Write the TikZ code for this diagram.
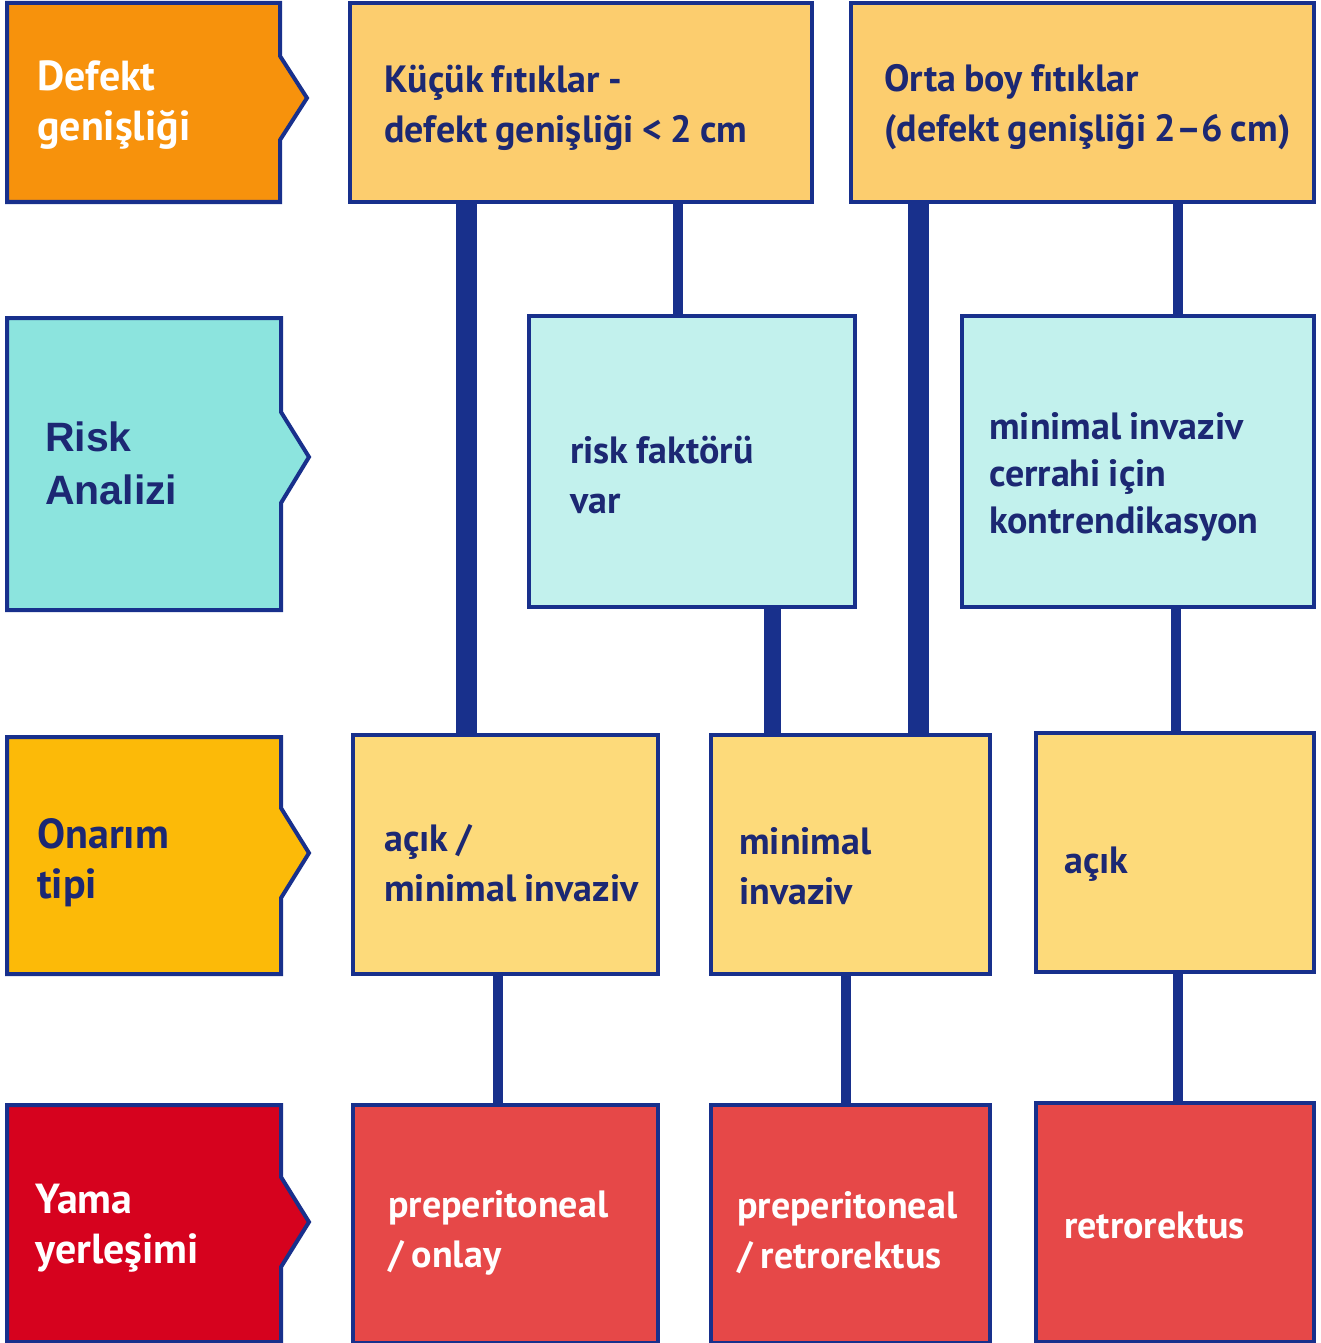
\documentclass[tikz,border=0pt]{standalone}
\usepackage{fontspec}
\setmainfont{PT Sans}[WordSpace=0.85]
\newfontfamily\riskfont{Liberation Sans}
\definecolor{navy}{RGB}{24,48,140}
\definecolor{inknavy}{RGB}{28,40,115}
\definecolor{defektorange}{RGB}{247,146,12}
\definecolor{rowone}{RGB}{252,205,110}
\definecolor{riskteal}{RGB}{140,228,222}
\definecolor{rowtwo}{RGB}{194,241,237}
\definecolor{onarimgold}{RGB}{252,186,8}
\definecolor{rowthree}{RGB}{253,218,122}
\definecolor{yamared}{RGB}{214,2,30}
\definecolor{rowfour}{RGB}{230,72,72}
\begin{document}
\begin{tikzpicture}[
        x=1pt, y=-1pt,
        box/.style={rectangle,draw=navy,line width=4pt,inner sep=0pt},
        boxtext/.style={anchor=west,align=left,inner sep=0pt,
            font=\bfseries\fontsize{38}{50}\selectfont},
        label/.style={draw=navy,line width=4pt,line join=miter},
        labeltext/.style={anchor=west,align=left,inner sep=0pt,
            font=\bfseries\fontsize{42}{50}\selectfont},
        widebar/.style={draw=navy,line width=21pt},
        midbar/.style={draw=navy,line width=17pt},
        thinbar/.style={draw=navy,line width=10pt}
    ]
        \useasboundingbox (0,0) rectangle (1320,1343);

        % Row labels
        \draw[label,fill=defektorange] (7,3) -- (280,3) -- (280,56) -- (307,98) -- (280,140)
            -- (280,202) -- (7,202) -- cycle;
        \node[labeltext,text=white] (defekt) at (37,105.5) {Defekt\\genişliği};
        \draw[label,fill=riskteal] (7,318) -- (281,318) -- (281,412) -- (309,457) -- (281,503)
            -- (281,610) -- (7,610) -- cycle;
        \node[labeltext,text=inknavy,font=\riskfont\bfseries\fontsize{41}{53}\selectfont]
            (risk) at (45,463) {Risk\\Analizi};
        \draw[label,fill=onarimgold] (7,737) -- (281,737) -- (281,808) -- (309,853) -- (281,898)
            -- (281,974) -- (7,974) -- cycle;
        \node[labeltext,text=inknavy] (onarim) at (37,863) {Onarım\\tipi};
        \draw[label,fill=yamared] (7,1105) -- (281,1105) -- (281,1177) -- (309,1222) -- (281,1267)
            -- (281,1342) -- (7,1342) -- cycle;
        \node[labeltext,text=white] (yama) at (35,1228) {Yama\\yerleşimi};

        % Defect width
        \node[box,fill=rowone,minimum width=462pt,minimum height=199pt] (kucuk) at (581,102.5) {};
        \node[box,fill=rowone,minimum width=463pt,minimum height=199pt] (orta) at (1082.5,102.5) {};
        \node[boxtext,text=inknavy] (kucuk-t) at ([xshift=36pt,yshift=-5pt]kucuk.west)
            {Küçük fıtıklar -\\defekt genişliği < 2 cm};
        \node[boxtext,text=inknavy] (orta-t) at ([xshift=35pt,yshift=-5pt]orta.west)
            {Orta boy fıtıklar\\(defekt genişliği 2–6 cm)};

        % Risk analysis
        \node[box,fill=rowtwo,minimum width=326pt,minimum height=291pt] (riskvar) at (692,461.5) {};
        \node[box,fill=rowtwo,minimum width=352pt,minimum height=291pt] (kontrend) at (1138,461.5) {};
        \node[boxtext,text=inknavy] (riskvar-t) at ([xshift=43pt,yshift=-13pt]riskvar.west)
            {risk faktörü\\var};
        \node[boxtext,text=inknavy,font=\bfseries\fontsize{38}{47}\selectfont] (kontrend-t)
            at ([xshift=29pt,yshift=-15pt]kontrend.west)
            {minimal invaziv\\cerrahi için\\kontrendikasyon};

        % Repair type
        \node[box,fill=rowthree,minimum width=305pt,minimum height=239pt] (acikmin) at (505.5,854.5) {};
        \node[box,fill=rowthree,minimum width=279pt,minimum height=239pt] (mininv) at (850.5,854.5) {};
        \node[box,fill=rowthree,minimum width=278pt,minimum height=239pt] (acik) at (1175,852.5) {};
        \node[boxtext,text=inknavy] (acikmin-t) at ([xshift=33pt,yshift=-9pt]acikmin.west)
            {açık /\\minimal invaziv};
        \node[boxtext,text=inknavy] (mininv-t) at ([xshift=30pt,yshift=-12pt]mininv.west)
            {minimal\\invaziv};
        \node[boxtext,text=inknavy] (acik-t) at ([xshift=30pt,yshift=-11.5pt]acik.west) {açık};

        % Mesh placement
        \node[box,fill=rowfour,minimum width=305pt,minimum height=238pt] (preonlay) at (505.5,1223.5) {};
        \node[box,fill=rowfour,minimum width=279pt,minimum height=238pt] (preretro) at (850.5,1223.5) {};
        \node[box,fill=rowfour,minimum width=278pt,minimum height=239pt] (retro) at (1175,1222.5) {};
        \node[boxtext,text=white] (preonlay-t) at ([xshift=37pt,yshift=-9pt]preonlay.west)
            {preperitoneal\\/ onlay};
        \node[boxtext,text=white] (preretro-t) at ([xshift=28pt,yshift=-9pt]preretro.west)
            {preperitoneal\\/ retrorektus};
        \node[boxtext,text=white] (retro-t) at ([xshift=30pt,yshift=-3pt]retro.west) {retrorektus};

        % Connectors
        \coordinate (k1) at ([xshift=118pt]kucuk.south west);
        \coordinate (k2) at ([xshift=330pt]kucuk.south west);
        \coordinate (o1) at ([xshift=69pt]orta.south west);
        \coordinate (o2) at ([xshift=329pt]orta.south west);
        \coordinate (r1) at ([xshift=245pt]riskvar.south west);
        \coordinate (c1) at ([xshift=216pt]kontrend.south west);
        \coordinate (a1) at ([xshift=147pt]acikmin.south west);
        \coordinate (m1) at ([xshift=137pt]mininv.south west);
        \coordinate (a2) at ([xshift=144pt]acik.south west);
        \draw[widebar] (k1) -- (k1 |- acikmin.north);
        \draw[thinbar] (k2) -- (k2 |- riskvar.north);
        \draw[widebar] (o1) -- (o1 |- mininv.north);
        \draw[thinbar] (o2) -- (o2 |- kontrend.north);
        \draw[midbar] (r1) -- (r1 |- mininv.north);
        \draw[thinbar] (c1) -- (c1 |- acik.north);
        \draw[thinbar] (a1) -- (a1 |- preonlay.north);
        \draw[thinbar] (m1) -- (m1 |- preretro.north);
        \draw[thinbar] (a2) -- (a2 |- retro.north);
    \end{tikzpicture}
\end{document}
